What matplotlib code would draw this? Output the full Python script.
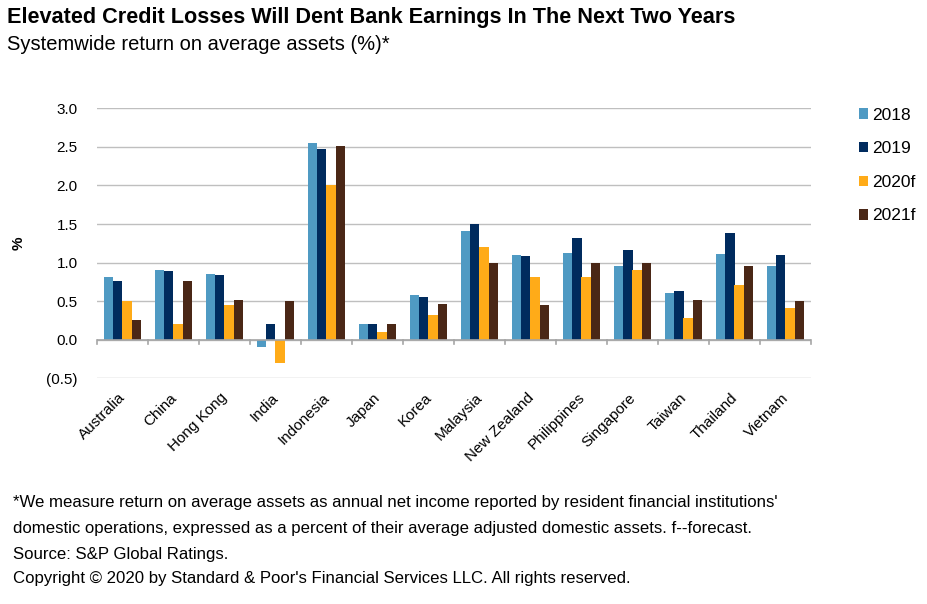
import matplotlib
matplotlib.use("Agg")
import matplotlib.pyplot as plt
import numpy as np

categories = ["Australia", "China", "Hong Kong", "India", "Indonesia", "Japan", "Korea",
              "Malaysia", "New Zealand", "Philippines", "Singapore", "Taiwan", "Thailand", "Vietnam"]
series_names = ["2018", "2019", "2020f", "2021f"]
v2018 = [0.81, 0.90, 0.85, -0.10, 2.55, 0.20, 0.58, 1.41, 1.10, 1.12, 0.95, 0.60, 1.11, 0.95]
v2019 = [0.76, 0.89, 0.84, 0.20, 2.47, 0.20, 0.55, 1.50, 1.08, 1.32, 1.16, 0.63, 1.39, 1.10]
v2020 = [0.50, 0.20, 0.45, -0.30, 2.00, 0.10, 0.32, 1.20, 0.81, 0.81, 0.90, 0.28, 0.71, 0.41]
v2021 = [0.26, 0.76, 0.52, 0.50, 2.51, 0.20, 0.46, 1.00, 0.45, 1.00, 1.00, 0.52, 0.95, 0.50]
yticks = [-0.5, 0.0, 0.5, 1.0, 1.5, 2.0, 2.5, 3.0]
ytick_labels = ["(0.5)", "0.0", "0.5", "1.0", "1.5", "2.0", "2.5", "3.0"]

colors = ["#4F9AC3", "#002B5E", "#FFAB18", "#4A2716"]
plt.rcParams['font.family'] = ['Liberation Sans', 'DejaVu Sans']

fig = plt.figure(figsize=(9.28, 6.04), dpi=100)
ax = fig.add_axes([97/928, 1-378.3/604, (811-97)/928, (378.3-108.3)/604])

x = np.arange(len(categories))
w = 0.185
for i, (vals, c, n) in enumerate(zip([v2018, v2019, v2020, v2021], colors, series_names)):
    ax.bar(x + (i - 1.5) * w, vals, width=w, color=c, label=n, zorder=3)

ax.set_xlim(-0.5, len(categories) - 0.5)
ax.set_ylim(-0.5, 3.0)
ax.set_yticks(yticks)
ax.set_yticklabels(ytick_labels, fontsize=11)
ax.yaxis.grid(True, color="#BFBFBF", linewidth=1.0, zorder=0)
ax.tick_params(axis='y', length=0, pad=14)
for s in ["top", "right", "left", "bottom"]:
    ax.spines[s].set_visible(False)
ax.axhline(0, color="#A6A6A6", linewidth=1.2, zorder=4)

# category boundary ticks on zero line
ax.set_xticks(x)
ax.set_xticklabels([])
ax.tick_params(axis='x', length=0)
for b in np.arange(-0.5, len(categories), 1.0):
    ax.plot([b, b], [0, -0.06], color="#A6A6A6", linewidth=1.2, zorder=4, clip_on=False)
for xi, lab in zip(x, categories):
    ax.text(xi - 0.08, -0.66, lab, rotation=45, ha='right', va='top', rotation_mode='anchor',
            fontsize=11, transform=ax.transData)

ax.set_ylabel("%", fontsize=11, fontweight='bold', labelpad=15)

leg = ax.legend(loc='upper left', bbox_to_anchor=(1.045, 1.06), frameon=False, fontsize=12.5,
                handlelength=0.55, handleheight=0.55, handletextpad=0.2, labelspacing=1.07)

fig.text(7/928, 1-18/604, "Elevated Credit Losses Will Dent Bank Earnings In The Next Two Years",
         fontsize=15.6, fontweight='bold', va='center')
fig.text(7/928, 1-44/604, "Systemwide return on average assets (%)*", fontsize=14.5, va='center')

foot = ["*We measure return on average assets as annual net income reported by resident financial institutions'",
        "domestic operations, expressed as a percent of their average adjusted domestic assets. f--forecast.",
        "Source: S&P Global Ratings.",
        "Copyright \u00a9 2020 by Standard & Poor's Financial Services LLC. All rights reserved."]
foot_y = [503, 528, 554, 579]
for line, yy in zip(foot, foot_y):
    fig.text(13/928, 1-yy/604, line, fontsize=12.1, va='center')

fig.savefig("out.png", dpi=100)
